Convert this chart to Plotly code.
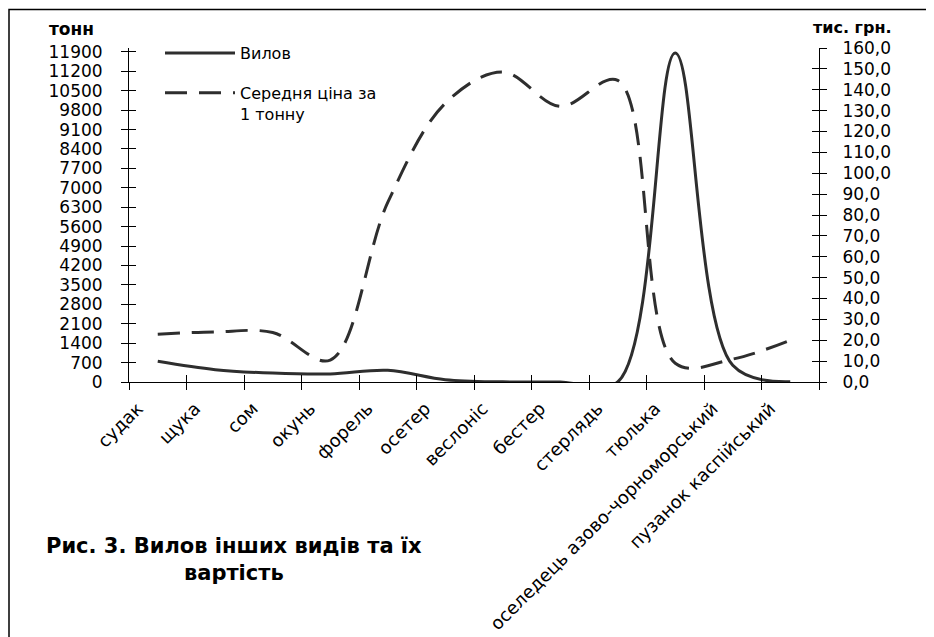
import plotly.graph_objects as go

# ---- data ----
categories = ["судак", "щука", "сом", "окунь", "форель", "осетер", "веслоніс",
              "бестер", "стерлядь", "тюлька", "оселедець азово-чорноморський",
              "пузанок каспійський"]
catch_tonnes = [745, 445, 320, 290, 420, 85, 5, 3, 2, 11860, 600, 10]
price_k_uah = [22.9, 24.0, 23.7, 10.5, 86.0, 133.5, 148.5, 132.0, 144.5, 9.0, 11.0, 20.0]

left_tickvals = [0, 700, 1400, 2100, 2800, 3500, 4200, 4900, 5600, 6300, 7000,
                 7700, 8400, 9100, 9800, 10500, 11200, 11900]
left_ticktext = ["0", "700", "1400", "2100", "2800", "3500", "4200", "4900", "5600",
                 "6300", "7000", "7700", "8400", "9100", "9800", "10500", "11200", "11900"]
right_tickvals = [0, 10, 20, 30, 40, 50, 60, 70, 80, 90, 100, 110, 120, 130, 140, 150, 160]
right_ticktext = ["0,0", "10,0", "20,0", "30,0", "40,0", "50,0", "60,0", "70,0", "80,0",
                  "90,0", "100,0", "110,0", "120,0", "130,0", "140,0", "150,0", "160,0"]

FONT = "DejaVu Sans"
INK = "#2e2e2e"
AX = "#000000"

# the page adds an 8px body margin, so the figure is placed 8px in from the corner
OFF = 8
W, H = 934 - OFF, 637 - OFF
# plot area in screenshot pixels: x 129..819, y 48..382
L, T = 129 - OFF, 48 - OFF
R, B = W - (819 - OFF), H - (382 - OFF)
PW, PH = W - L - R, H - T - B


def px(xs):
    return (xs - OFF - L) / PW


def py(ys):
    return (H - B - (ys - OFF)) / PH


fig = go.Figure()
fig.add_trace(go.Scatter(
    x=categories, y=catch_tonnes, name="Вилов", mode="lines",
    line=dict(color=INK, width=3, shape="spline", smoothing=1),
    yaxis="y", legendgroup="a", hoverinfo="skip"))
fig.add_trace(go.Scatter(
    x=categories, y=price_k_uah, name="Середня ціна за<br>1 тонну", mode="lines",
    line=dict(color=INK, width=3, dash="22px,12px", shape="spline", smoothing=1),
    yaxis="y2", legendgroup="b", hoverinfo="skip"))
# invisible helpers so the overlay axes (inner half of the crossing ticks) are drawn
fig.add_trace(go.Scatter(x=categories, y=catch_tonnes, xaxis="x2", yaxis="y3",
                         mode="lines", line=dict(width=0), opacity=0,
                         showlegend=False, hoverinfo="skip"))
fig.add_trace(go.Scatter(x=categories, y=price_k_uah, xaxis="x2", yaxis="y4",
                         mode="lines", line=dict(width=0), opacity=0,
                         showlegend=False, hoverinfo="skip"))

tickfont = dict(family=FONT, size=17, color="#000")

common_x = dict(type="category", categoryorder="array", categoryarray=categories,
                range=[-0.5, len(categories) - 0.5], tickson="boundaries",
                showgrid=False, zeroline=False, ticklen=7, tickwidth=1, tickcolor=AX,
                automargin=False)
common_y = dict(showgrid=False, zeroline=False, ticklen=7, tickwidth=1, tickcolor=AX,
                automargin=False)
fig.update_layout(
    width=W, height=H,
    margin=dict(l=L, r=R, t=T, b=B, pad=0, autoexpand=False),
    paper_bgcolor="white", plot_bgcolor="white",
    font=dict(family=FONT, size=16, color="#000"),
    xaxis=dict(**common_x, ticks="outside", showline=True, linecolor=AX, linewidth=1,
               tickangle=-45, tickfont=dict(family=FONT, size=18, color="#000"),
               ticklabelshift=-20, ticklabelstandoff=8),
    xaxis2=dict(**common_x, overlaying="x", anchor="y", side="bottom", ticks="inside",
                showticklabels=False, showline=False),
    yaxis=dict(**common_y, range=[0, 12040], tickvals=left_tickvals, ticktext=left_ticktext,
               ticks="outside", showline=True, linecolor=AX, linewidth=1,
               tickfont=tickfont, ticklabelstandoff=15),
    yaxis3=dict(**common_y, range=[0, 12040], tickvals=left_tickvals, overlaying="y",
                anchor="x", side="left", ticks="inside",
                showticklabels=False, showline=False),
    yaxis2=dict(**common_y, range=[0, 160], tickvals=right_tickvals, ticktext=right_ticktext,
                overlaying="y", side="right", anchor="x", ticks="outside",
                showline=True, linecolor=AX, linewidth=1,
                tickfont=tickfont, ticklabelstandoff=12),
    yaxis4=dict(**common_y, range=[0, 160], tickvals=right_tickvals, overlaying="y",
                side="right", anchor="x", ticks="inside",
                showticklabels=False, showline=False),
    legend=dict(x=px(160), y=py(36), xanchor="left", yanchor="top",
                bgcolor="rgba(0,0,0,0)", borderwidth=0, itemwidth=70,
                font=dict(family=FONT, size=16, color="#000"), valign="top",
                traceorder="grouped", tracegroupgap=16),
    showlegend=True,
)

fig.add_annotation(text="<b>тонн</b>", xref="paper", yref="paper", x=px(71), y=py(29),
                   xanchor="center", yanchor="middle", showarrow=False,
                   font=dict(family=FONT, size=17, color="#000"))
fig.add_annotation(text="<b>тис. грн.</b>", xref="paper", yref="paper", x=px(852), y=py(27),
                   xanchor="center", yanchor="middle", showarrow=False,
                   font=dict(family=FONT, size=16, color="#000"))
fig.add_annotation(text="<b>Рис. 3. Вилов інших видів та їх</b><br><b>вартість</b>",
                   xref="paper", yref="paper", x=px(234), y=py(559),
                   xanchor="center", yanchor="middle", align="center", showarrow=False,
                   font=dict(family=FONT, size=21, color="#000"))

# outer frame of the figure (top and left edges visible, the rest cropped)
fig.add_shape(type="rect", xref="paper", yref="paper",
              x0=px(9), x1=px(960), y0=py(660), y1=py(9.5),
              line=dict(color="#000", width=1.5), fillcolor="rgba(0,0,0,0)", layer="below")

fig.write_html("out.html")
